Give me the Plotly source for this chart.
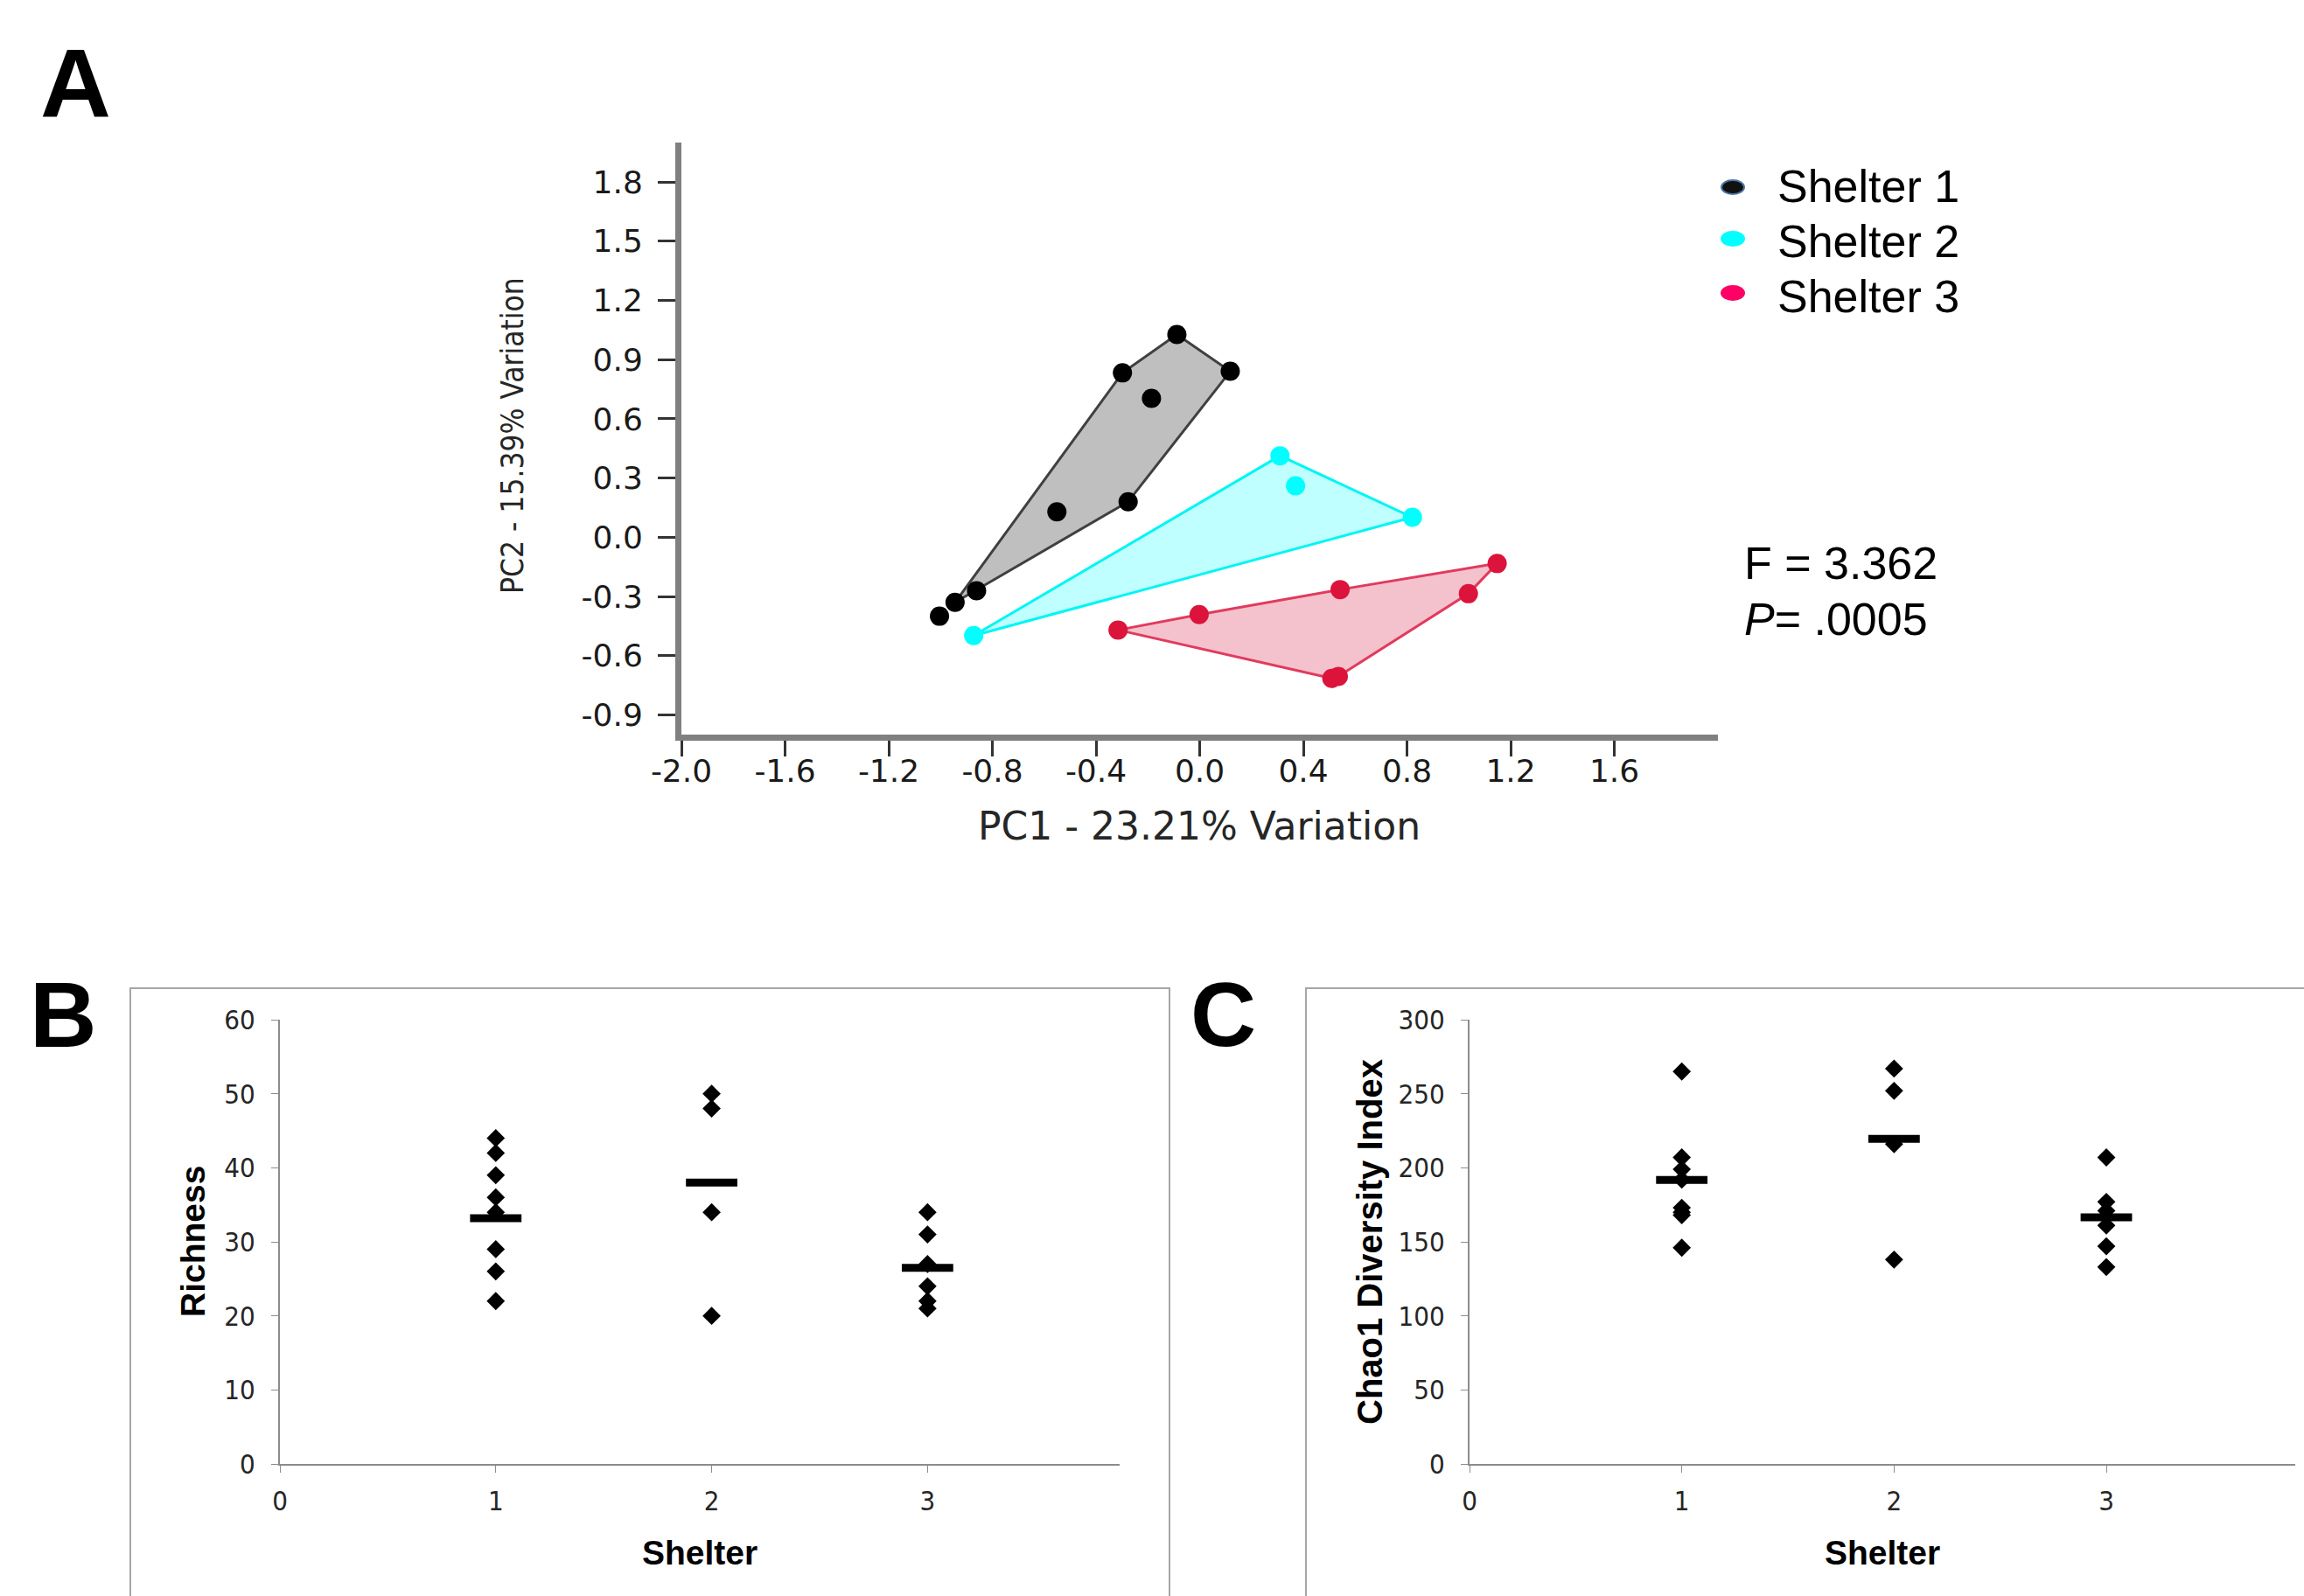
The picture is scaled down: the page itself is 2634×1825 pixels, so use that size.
import plotly.graph_objects as go

W, H = 2634, 1825

# ---------------- Panel A : PCA (PC1 / PC2) ----------------
s1_pc1 = [-0.088, 0.118, -0.298, -0.186, -0.276, -0.551, -0.861, -0.944, -1.004]
s1_pc2 = [1.027, 0.841, 0.833, 0.704, 0.180, 0.129, -0.271, -0.330, -0.400]
s1_hull = [0, 1, 4, 7, 2]

s2_pc1 = [0.310, 0.370, 0.821, -0.872]
s2_pc2 = [0.413, 0.261, 0.101, -0.498]
s2_hull = [0, 2, 3]

s3_pc1 = [1.148, 1.037, 0.542, -0.002, -0.315, 0.510, 0.535]
s3_pc2 = [-0.133, -0.286, -0.265, -0.392, -0.470, -0.715, -0.705]
s3_hull = [0, 1, 6, 5, 4, 3, 2]

a_xticks = [-2.0, -1.6, -1.2, -0.8, -0.4, 0.0, 0.4, 0.8, 1.2, 1.6]
a_xlabels = ["-2.0", "-1.6", "-1.2", "-0.8", "-0.4", "0.0", "0.4", "0.8", "1.2", "1.6"]
a_yticks = [1.8, 1.5, 1.2, 0.9, 0.6, 0.3, 0.0, -0.3, -0.6, -0.9]
a_ylabels = ["1.8", "1.5", "1.2", "0.9", "0.6", "0.3", "0.0", "-0.3", "-0.6", "-0.9"]

legend_names = ["Shelter 1", "Shelter 2", "Shelter 3"]
f_text = "F = 3.362"
p_text = "<i>P</i>= .0005"

# ---------------- Panel B : Richness ----------------
shelters = [1, 2, 3]
rich_s1 = [44, 42, 39, 36, 34, 29, 26, 22]
rich_s2 = [50, 48, 34, 20]
rich_s3 = [34, 31, 27, 24, 22, 21]
rich_mean = [33.2, 38.0, 26.5]

# ---------------- Panel C : Chao1 ----------------
chao_s1 = [265, 207, 199, 192, 173, 170, 168, 146]
chao_s2 = [267, 252, 216, 138]
chao_s3 = [207, 177, 171, 161, 147, 133]
chao_mean = [191.8, 219.6, 166.5]
bc_xticks = [0, 1, 2, 3]


def px(x):
    return x / W


def py(y):
    return 1 - y / H


fig = go.Figure()

groups = [
    (s1_pc1, s1_pc2, s1_hull, "#000000", "#404040", "#bfbfbf"),
    (s2_pc1, s2_pc2, s2_hull, "#00ffff", "#00f5f5", "#bfffff"),
    (s3_pc1, s3_pc2, s3_hull, "#dc143c", "#e23a5e", "#f4c2cc"),
]
for xs, ys, hull, mc, lc, fc in groups:
    hx = [xs[i] for i in hull] + [xs[hull[0]]]
    hy = [ys[i] for i in hull] + [ys[hull[0]]]
    fig.add_trace(go.Scatter(x=hx, y=hy, mode="lines", fill="toself",
                             fillcolor=fc, line=dict(color=lc, width=3),
                             xaxis="x", yaxis="y", showlegend=False, hoverinfo="skip"))
for xs, ys, hull, mc, lc, fc in groups:
    fig.add_trace(go.Scatter(x=xs, y=ys, mode="markers",
                             marker=dict(color=mc, size=22, line=dict(width=0)),
                             xaxis="x", yaxis="y", showlegend=False))


def add_dots(groups_vals, means, xa, ya):
    for s, vals in zip(shelters, groups_vals):
        fig.add_trace(go.Scatter(x=[s] * len(vals), y=vals, mode="markers",
                                 marker=dict(symbol="diamond", size=16, color="black"),
                                 xaxis=xa, yaxis=ya, showlegend=False))
    fig.add_trace(go.Scatter(x=shelters, y=means, mode="markers",
                             marker=dict(symbol="line-ew", size=42, color="black",
                                         line=dict(color="black", width=9)),
                             xaxis=xa, yaxis=ya, showlegend=False))


add_dots([rich_s1, rich_s2, rich_s3], rich_mean, "x2", "y2")
add_dots([chao_s1, chao_s2, chao_s3], chao_mean, "x3", "y3")

afont = dict(family="DejaVu Sans, Verdana, sans-serif", size=36, color="#1a1a1a")
bcfont = dict(family="Liberation Sans Narrow, DejaVu Sans Condensed, Arial Narrow, Liberation Sans, sans-serif",
              size=31, color="#262626")

common = dict(showgrid=False, zeroline=False, automargin=False)

fig.update_layout(
    template="none",
    width=W, height=H, margin=dict(l=0, r=0, t=0, b=0, pad=0, autoexpand=False),
    paper_bgcolor="white", plot_bgcolor="rgba(0,0,0,0)",
    xaxis=dict(domain=[px(779), px(1964)], range=[-2.0, 2.0], anchor="y",
               tickvals=a_xticks, ticktext=a_xlabels, ticks="outside", ticklen=18,
               tickwidth=3, tickcolor="#333333", showline=True, linecolor="#808080",
               linewidth=7, tickfont=afont, ticklabelstandoff=-14, **common),
    yaxis=dict(domain=[py(840), py(163)], range=[-1.0, 2.0], anchor="x",
               tickvals=a_yticks, ticktext=a_ylabels, ticks="outside", ticklen=20,
               tickwidth=3, tickcolor="#333333", showline=True, linecolor="#808080",
               linewidth=7, tickfont=afont, ticklabelstandoff=10, **common),
    xaxis2=dict(domain=[px(320), px(1280)], range=[0, 3.89], anchor="y2",
                tickvals=bc_xticks, ticks="outside", ticklen=8, tickcolor="#8c8c8c",
                showline=True, linecolor="#8c8c8c", linewidth=2,
                tickfont=bcfont, ticklabelstandoff=6, **common),
    yaxis2=dict(domain=[py(1674), py(1166)], range=[0, 60], anchor="x2",
                tickvals=[0, 10, 20, 30, 40, 50, 60], ticks="outside", ticklen=8,
                tickcolor="#8c8c8c", showline=True, linecolor="#8c8c8c", linewidth=2,
                tickfont=bcfont, ticklabelstandoff=12, **common),
    xaxis3=dict(domain=[px(1680), px(2624)], range=[0, 3.89], anchor="y3",
                tickvals=bc_xticks, ticks="outside", ticklen=8, tickcolor="#8c8c8c",
                showline=True, linecolor="#8c8c8c", linewidth=2,
                tickfont=bcfont, ticklabelstandoff=6, **common),
    yaxis3=dict(domain=[py(1674), py(1166)], range=[0, 300], anchor="x3",
                tickvals=[0, 50, 100, 150, 200, 250, 300], ticks="outside", ticklen=8,
                tickcolor="#8c8c8c", showline=True, linecolor="#8c8c8c", linewidth=2,
                tickfont=bcfont, ticklabelstandoff=12, **common),
)

shapes = [
    dict(type="rect", xref="paper", yref="paper", x0=px(149), x1=px(1337), y0=py(1130), y1=-0.02,
         line=dict(color="#a6a6a6", width=2), fillcolor="rgba(0,0,0,0)", layer="below"),
    dict(type="rect", xref="paper", yref="paper", x0=px(1493), x1=1.02, y0=py(1130), y1=-0.02,
         line=dict(color="#a6a6a6", width=2), fillcolor="rgba(0,0,0,0)", layer="below"),
]
leg_fill = ["#111111", "#00ffff", "#ff0066"]
leg_line = ["#4a76a8", "#00ffff", "#ff0066"]
leg_marker_y = [214, 273, 335]
leg_text_y = [213, 276, 339]
for c, lc, yy in zip(leg_fill, leg_line, leg_marker_y):
    shapes.append(dict(type="circle", xref="paper", yref="paper",
                       x0=px(1968), x1=px(1994), y0=py(yy + 8), y1=py(yy - 8),
                       fillcolor=c, line=dict(color=lc, width=2)))
fig.update_layout(shapes=shapes)

ann = []
txt = dict(family="Liberation Sans, Arial, sans-serif", size=52, color="black")
for name, yy in zip(legend_names, leg_text_y):
    ann.append(dict(x=px(2030), y=py(yy), xref="paper", yref="paper", text=name,
                    showarrow=False, xanchor="left", yanchor="middle", font=txt))
ann.append(dict(x=px(1992), y=py(644), xref="paper", yref="paper", text=f_text,
                showarrow=False, xanchor="left", yanchor="middle", font=txt))
ann.append(dict(x=px(1992), y=py(708), xref="paper", yref="paper", text=p_text,
                showarrow=False, xanchor="left", yanchor="middle", font=txt))
# axis titles panel A
ann.append(dict(x=px(1371), y=py(944), xref="paper", yref="paper", text="PC1 - 23.21% Variation",
                showarrow=False, xanchor="center", yanchor="middle",
                font=dict(family="DejaVu Sans, Verdana, sans-serif", size=44, color="#262626")))
ann.append(dict(x=px(586), y=py(498), xref="paper", yref="paper", text="PC2 - 15.39% Variation",
                showarrow=False, xanchor="center", yanchor="middle", textangle=-90,
                font=dict(family="Liberation Sans Narrow, DejaVu Sans Condensed, Arial Narrow, sans-serif",
                          size=35, color="#262626")))
# axis titles panel B/C
bold = dict(family="Liberation Sans, Arial, sans-serif", size=39, color="black")
ann.append(dict(x=px(800), y=py(1775), xref="paper", yref="paper", text="<b>Shelter</b>",
                showarrow=False, xanchor="center", yanchor="middle", font=bold))
ann.append(dict(x=px(2152), y=py(1775), xref="paper", yref="paper", text="<b>Shelter</b>",
                showarrow=False, xanchor="center", yanchor="middle", font=bold))
ann.append(dict(x=px(220), y=py(1420), xref="paper", yref="paper", text="<b>Richness</b>",
                showarrow=False, xanchor="center", yanchor="middle", textangle=-90, font=bold))
ann.append(dict(x=px(1566), y=py(1420), xref="paper", yref="paper", text="<b>Chao1 Diversity Index</b>",
                showarrow=False, xanchor="center", yanchor="middle", textangle=-90,
                font=dict(family="Liberation Sans, Arial, sans-serif", size=40, color="black")))
# panel letters
for t, xx, yy, sz in [("A", 86, 95, 112), ("B", 72, 1160, 106), ("C", 1398, 1160, 104)]:
    ann.append(dict(x=px(xx), y=py(yy), xref="paper", yref="paper", text="<b>%s</b>" % t,
                    showarrow=False, xanchor="center", yanchor="middle",
                    font=dict(family="Liberation Sans, Arial, sans-serif", size=sz, color="black")))
fig.update_layout(annotations=ann)

fig.write_html("out.html")
